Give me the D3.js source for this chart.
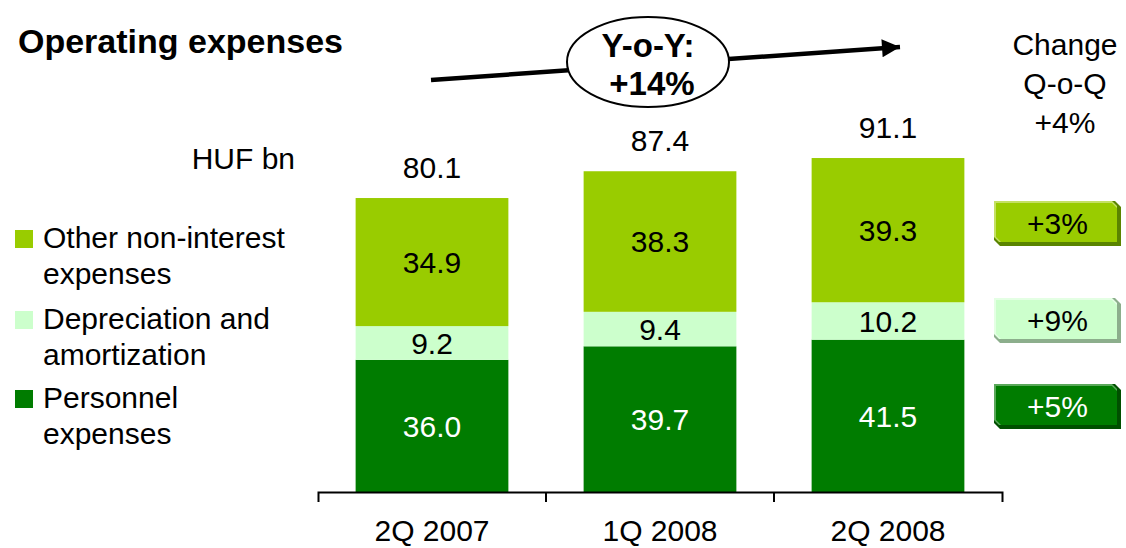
<!DOCTYPE html>
<html>
<head>
<meta charset="utf-8">
<script src="https://cdn.jsdelivr.net/npm/d3@7"></script>
<style>
  html, body { margin: 0; padding: 0; background: #fff; }
  svg { display: block; font-family: "Liberation Sans", Arial, sans-serif; }
</style>
</head>
<body>
<svg id="chart" width="1126" height="548"></svg>
<script>
// Operating expenses by quarter, HUF bn
const categories = ["2Q 2007", "1Q 2008", "2Q 2008"];
const personnel = [36.0, 39.7, 41.5];
const depreciation = [9.2, 9.4, 10.2];
const otherExpenses = [34.9, 38.3, 39.3];
const totals = [80.1, 87.4, 91.1];
const seriesNames = ["Personnel expenses", "Depreciation and amortization", "Other non-interest expenses"];
const qoqChanges = ["+5%", "+9%", "+3%"];
const totalChange = "+4%";
const yoyChange = "+14%";

const colors = ["#007c00", "#ccffcc", "#99cc00"];
const labelColors = ["#fff", "#000", "#000"];

const svg = d3.select("#chart");
const FONT = 30;

const x = d3.scaleBand().domain(categories).range([318, 1002])
  .paddingInner(0.33).paddingOuter(0.165);
const y = d3.scaleLinear().domain([0, 100]).range([492, 125]);

const seriesValues = [personnel, depreciation, otherExpenses];
const rows = categories.map((c, i) => {
  const r = { cat: c };
  seriesNames.forEach((s, k) => r[s] = seriesValues[k][i]);
  return r;
});
const stack = d3.stack().keys(seriesNames)(rows);

// stacked bars
const layers = svg.append("g").selectAll("g").data(stack).join("g")
  .attr("fill", (d, k) => colors[k]);
layers.selectAll("rect").data(d => d).join("rect")
  .attr("x", d => x(d.data.cat))
  .attr("width", x.bandwidth())
  .attr("y", d => y(d[1]))
  .attr("height", d => y(d[0]) - y(d[1]));

// segment labels
stack.forEach((layer, k) => {
  svg.append("g").selectAll("text").data(layer).join("text")
    .attr("x", d => x(d.data.cat) + x.bandwidth() / 2)
    .attr("y", d => (y(d[0]) + y(d[1])) / 2)
    .attr("dy", "0.36em")
    .attr("text-anchor", "middle")
    .attr("font-size", FONT)
    .attr("fill", labelColors[k])
    .text(d => d.data[seriesNames[k]].toFixed(1));
});

// totals above bars
svg.append("g").selectAll("text").data(categories).join("text")
  .attr("x", c => x(c) + x.bandwidth() / 2)
  .attr("y", (c, i) => y(totals[i]) - 20)
  .attr("text-anchor", "middle")
  .attr("font-size", FONT)
  .attr("fill", "#000")
  .text((c, i) => totals[i].toFixed(1));

// category axis with ticks between the bars
const axis = svg.append("g").attr("transform", "translate(0,492)")
  .call(d3.axisBottom(x).tickSizeInner(0).tickSizeOuter(10).tickPadding(28));
axis.select(".domain").attr("stroke", "#000").attr("stroke-width", 2);
axis.selectAll(".tick text").attr("font-size", FONT)
  .attr("font-family", "Liberation Sans, Arial, sans-serif").attr("fill", "#000");
const gap = x.step() * x.paddingInner() / 2;
axis.append("g").selectAll("line").data(categories.slice(1)).join("line")
  .attr("x1", c => x(c) - gap).attr("x2", c => x(c) - gap)
  .attr("y1", 0).attr("y2", 10)
  .attr("stroke", "#000").attr("stroke-width", 2);

// title and unit
svg.append("text").attr("x", 18).attr("y", 53)
  .attr("font-size", 34).attr("font-weight", "bold").text("Operating expenses");
svg.append("text").attr("x", 295).attr("y", 169).attr("text-anchor", "end")
  .attr("font-size", FONT).text("HUF bn");

// legend (top series first)
const legendRows = [
  { k: 2, lines: ["Other non-interest", "expenses"], y: 248 },
  { k: 1, lines: ["Depreciation and", "amortization"], y: 329 },
  { k: 0, lines: ["Personnel", "expenses"], y: 408 }
];
const lg = svg.append("g");
legendRows.forEach(r => {
  lg.append("rect").attr("x", 15).attr("y", r.y - 18).attr("width", 18).attr("height", 18)
    .attr("fill", colors[r.k]);
  const t = lg.append("text").attr("x", 43).attr("y", r.y).attr("font-size", FONT);
  r.lines.forEach((l, i) => t.append("tspan").attr("x", 43).attr("dy", i === 0 ? 0 : 36).text(l));
});

// year-over-year arrow with ellipse
const defs = svg.append("defs");
defs.append("marker").attr("id", "head").attr("viewBox", "0 0 10 10")
  .attr("refX", 10).attr("refY", 5).attr("markerWidth", 4.2).attr("markerHeight", 4)
  .attr("markerUnits", "strokeWidth").attr("orient", "auto")
  .append("path").attr("d", "M0,0L10,5L0,10Z").attr("fill", "#000");
svg.append("line").attr("x1", 431).attr("y1", 80).attr("x2", 900).attr("y2", 47)
  .attr("stroke", "#000").attr("stroke-width", 4.5).attr("marker-end", "url(#head)");
svg.append("ellipse").attr("cx", 648).attr("cy", 62).attr("rx", 81).attr("ry", 45)
  .attr("fill", "#fff").attr("stroke", "#000").attr("stroke-width", 2);
const yoy = svg.append("text").attr("text-anchor", "middle").attr("font-size", 33)
  .attr("font-weight", "bold");
yoy.append("tspan").attr("x", 648).attr("y", 57).text("Y-o-Y:");
yoy.append("tspan").attr("x", 652).attr("y", 95).text(yoyChange);

// quarter-over-quarter change header
const qh = svg.append("text").attr("text-anchor", "middle").attr("font-size", FONT);
["Change", "Q-o-Q", totalChange].forEach((l, i) =>
  qh.append("tspan").attr("x", 1065).attr("y", 55 + i * 39).text(l));

// change badges
const badgeStyle = [
  { fill: "#007c00", dark: "#004f00", light: "#5aa85a", text: "#fff", top: 384 },
  { fill: "#ccffcc", dark: "#8cae8c", light: "#e4ffe4", text: "#000", top: 298 },
  { fill: "#99cc00", dark: "#5a8400", light: "#c4e064", text: "#000", top: 201 }
];
const bx = 994, bw = 127, bh = 45, c = 6;
function snip(x0, y0, w, h, cut) {
  return `M${x0},${y0}H${x0 + w - cut}L${x0 + w},${y0 + cut}V${y0 + h}H${x0 + cut}L${x0},${y0 + h - cut}Z`;
}
const badges = svg.append("g");
qoqChanges.forEach((v, k) => {
  const s = badgeStyle[k];
  const g = badges.append("g");
  g.append("path").attr("d", snip(bx, s.top, bw, bh, c)).attr("fill", s.dark);
  g.append("path").attr("d", snip(bx, s.top, bw - 4, bh - 4, c - 1)).attr("fill", s.light);
  g.append("path").attr("d", snip(bx + 2, s.top + 2, bw - 6, bh - 6, c - 1)).attr("fill", s.fill);
  g.append("text").attr("x", bx + bw / 2).attr("y", s.top + bh / 2).attr("dy", "0.36em")
    .attr("text-anchor", "middle").attr("font-size", FONT).attr("fill", s.text).text(v);
});
</script>
</body>
</html>
